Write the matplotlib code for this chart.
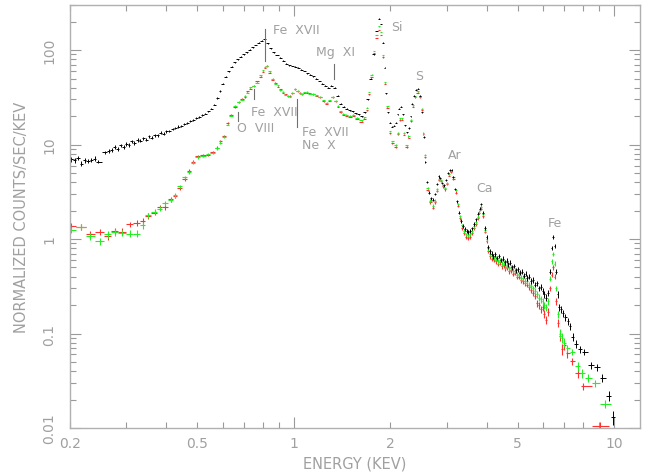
import numpy as np
import matplotlib
matplotlib.use("Agg")
import matplotlib.pyplot as plt
from matplotlib.ticker import FixedLocator, NullFormatter, FixedFormatter

# ---------------- data ----------------
black_E = [0.202, 0.207, 0.212, 0.217, 0.222, 0.228, 0.233, 0.239, 0.245,
           0.258, 0.264, 0.270, 0.276, 0.282, 0.288, 0.294, 0.300, 0.306, 0.312,
           0.318, 0.325, 0.332, 0.339, 0.346, 0.353, 0.360, 0.368, 0.376, 0.384,
           0.392, 0.400, 0.409, 0.418, 0.427, 0.436, 0.445, 0.455, 0.465, 0.475,
           0.485, 0.496, 0.507, 0.518, 0.529, 0.540, 0.552, 0.564, 0.576, 0.588,
           0.600, 0.613, 0.626, 0.640, 0.654, 0.668, 0.683, 0.698, 0.713, 0.729,
           0.745, 0.761, 0.778, 0.795, 0.812, 0.830, 0.848, 0.867, 0.886, 0.906,
           0.926, 0.946, 0.967, 0.988, 1.010, 1.032, 1.055, 1.078, 1.102, 1.126,
           1.151, 1.176, 1.202, 1.228, 1.255, 1.283, 1.311, 1.340, 1.370, 1.400,
           1.431, 1.462, 1.494, 1.527, 1.561, 1.595, 1.630, 1.666, 1.703, 1.740,
           1.778, 1.817, 1.845, 1.870, 1.895, 1.920, 1.946, 1.972, 1.998, 2.025,
           2.052, 2.080, 2.108, 2.136, 2.165, 2.194, 2.224, 2.254, 2.284, 2.315,
           2.346, 2.378, 2.410, 2.442, 2.475, 2.508, 2.542, 2.576, 2.611, 2.646,
           2.682, 2.718, 2.755, 2.792, 2.830, 2.868, 2.907, 2.946, 2.986, 3.026,
           3.067, 3.108, 3.150, 3.193, 3.236, 3.280, 3.324, 3.369, 3.415, 3.461,
           3.508, 3.555, 3.603, 3.652, 3.701, 3.751, 3.802, 3.853, 3.905, 3.958,
           4.00, 4.05, 4.10, 4.15, 4.20, 4.26, 4.32, 4.38, 4.44, 4.50, 4.56, 4.62,
           4.68, 4.74, 4.80, 4.87, 4.94, 5.01, 5.08, 5.15, 5.22, 5.29, 5.36, 5.43,
           5.50, 5.58, 5.66, 5.74, 5.82, 5.90, 5.98, 6.06, 6.14, 6.22, 6.30, 6.38,
           6.45, 6.52, 6.59, 6.66, 6.74, 6.84, 6.94, 7.05, 7.16, 7.28, 7.42, 7.58,
           7.80, 8.05, 8.50, 8.85, 9.20, 9.65, 9.95]
black_V = [7.0, 6.8, 7.2, 6.3, 6.8, 6.7, 6.9, 7.1, 6.6,
           8.3, 8.5, 8.8, 9.4, 8.9, 9.8, 9.5, 10.2, 9.9, 10.8,
           10.4, 11.2, 11.0, 11.6, 11.3, 12.2, 11.8, 12.6, 12.5, 13.3,
           13.0, 13.8, 14.0, 14.6, 14.9, 15.5, 15.8, 16.4, 17.0, 17.6,
           18.2, 19.0, 19.6, 20.5, 21.3, 22.4, 24.0, 26.5, 31.0, 37.0,
           44.0, 52.0, 60.0, 67.0, 74.0, 80.0, 85.0, 90.0, 95.0, 101.0,
           107.0, 113.0, 120.0, 126.0, 131.0, 118.0, 104.0, 95.0, 89.0, 83.0,
           77.0, 72.0, 69.0, 68.0, 67.0, 65.0, 62.0, 60.0, 57.0, 55.0,
           53.0, 50.0, 47.0, 44.0, 42.0, 40.0, 42.0, 40.0, 33.0, 27.0,
           25.0, 24.0, 23.0, 22.5, 21.5, 21.0, 20.0, 22.0, 30.0, 50.0,
           90.0, 160.0, 215.0, 190.0, 120.0, 65.0, 35.0, 22.0, 17.0, 15.5,
           15.8, 17.0, 21.0, 24.0, 25.0, 21.0, 16.0, 13.5, 15.0, 20.0,
           27.0, 33.0, 38.0, 39.0, 33.0, 22.0, 12.0, 6.5, 4.0, 3.1,
           2.7, 2.6, 3.0, 3.8, 4.6, 4.4, 3.9, 3.7, 4.2, 5.0,
           5.4, 5.4, 4.5, 3.4, 2.5, 1.9, 1.55, 1.38, 1.28, 1.22,
           1.18, 1.22, 1.30, 1.45, 1.62, 1.85, 2.10, 2.35, 1.90, 1.30,
           1.05, 0.82, 0.74, 0.70, 0.66, 0.69, 0.63, 0.66, 0.60, 0.62, 0.57, 0.59,
           0.54, 0.56, 0.50, 0.52, 0.47, 0.48, 0.44, 0.45, 0.41, 0.43, 0.39, 0.40,
           0.36, 0.37, 0.33, 0.34, 0.30, 0.31, 0.28, 0.26, 0.24, 0.27, 0.45, 0.80,
           1.05, 0.85, 0.45, 0.26, 0.19, 0.18, 0.165, 0.15, 0.135, 0.12, 0.092, 0.078,
           0.068, 0.064, 0.046, 0.044, 0.034, 0.022, 0.013]

rg_E = [0.202, 0.217, 0.231, 0.248, 0.262, 0.276, 0.290, 0.307, 0.323, 0.337,
        0.350, 0.368, 0.382, 0.395, 0.413, 0.425, 0.440, 0.457, 0.470, 0.484,
        0.501, 0.520, 0.540, 0.558, 0.575, 0.590, 0.605, 0.622, 0.636, 0.654,
        0.673, 0.690, 0.703, 0.716, 0.729, 0.750, 0.766, 0.789, 0.800, 0.812,
        0.825, 0.841, 0.860, 0.875, 0.891, 0.908, 0.924, 0.941, 0.958, 0.975,
        0.990, 1.007, 1.030, 1.045, 1.060, 1.080, 1.098, 1.120, 1.147, 1.175,
        1.206, 1.240, 1.268, 1.295, 1.324, 1.350, 1.373, 1.400, 1.422, 1.460,
        1.500, 1.528, 1.570, 1.630, 1.660, 1.690, 1.720, 1.750, 1.780, 1.810,
        1.843, 1.870, 1.900, 1.930, 1.960, 1.995, 2.030, 2.080, 2.110, 2.140,
        2.170, 2.210, 2.250, 2.280, 2.320, 2.350, 2.390, 2.440, 2.470, 2.510,
        2.540, 2.570, 2.620, 2.670, 2.720, 2.760, 2.800, 2.840, 2.880, 2.920,
        2.960, 3.000, 3.050, 3.100, 3.150, 3.200, 3.250, 3.300, 3.350, 3.400,
        3.450, 3.500, 3.550, 3.600, 3.650, 3.700, 3.750, 3.800, 3.850, 3.900,
        3.950, 4.00, 4.05, 4.10, 4.16, 4.22, 4.28, 4.34, 4.40, 4.46, 4.52, 4.58,
        4.64, 4.70, 4.77, 4.84, 4.91, 4.98, 5.05, 5.12, 5.19, 5.26, 5.34, 5.42,
        5.50, 5.58, 5.66, 5.74, 5.82, 5.90, 5.98, 6.06, 6.14, 6.22, 6.30, 6.38,
        6.45, 6.52, 6.60, 6.70, 6.80, 6.90, 7.00, 7.15]
red_V = [1.38, 1.34, 1.13, 1.19, 1.08, 1.22, 1.20, 1.43, 1.48, 1.56,
         1.75, 1.90, 2.18, 2.18, 2.63, 2.85, 3.5, 4.3, 5.3, 6.6,
         7.5, 7.7, 7.8, 8.4, 9.3, 10.8, 12.3, 16.8, 20.8, 25.0,
         28.0, 30.5, 32.0, 36.5, 39.0, 42.0, 46.5, 52.5, 59.0, 65.0,
         68.0, 57.5, 48.5, 45.0, 41.0, 38.5, 35.5, 34.0, 32.3, 32.8,
         35.0, 38.5, 36.5, 35.2, 34.0, 35.3, 35.5, 35.0, 34.0, 32.8,
         31.5, 28.8, 27.2, 29.0, 31.5, 28.8, 25.2, 22.0, 20.8, 20.3,
         19.8, 20.3, 18.8, 17.5, 18.8, 23.0, 34.0, 52.0, 92.0, 135.0,
         162.0, 145.0, 84.0, 44.0, 24.5, 13.2, 10.3, 9.4, 12.8, 18.2,
         18.4, 12.7, 9.4, 11.8, 17.6, 25.0, 31.5, 35.5, 31.5, 23.2,
         12.8, 7.3, 3.3, 2.45, 2.15, 2.45, 3.25, 4.2, 4.1, 3.6,
         3.35, 3.85, 4.7, 5.1, 4.3, 3.1, 2.25, 1.65, 1.3, 1.15,
         1.05, 1.02, 1.06, 1.15, 1.3, 1.45, 1.65, 1.9, 2.1, 1.75,
         1.2, 0.95, 0.75, 0.66, 0.62, 0.60, 0.58, 0.55, 0.57, 0.52, 0.53, 0.49,
         0.50, 0.46, 0.47, 0.43, 0.44, 0.40, 0.40, 0.37, 0.36, 0.34, 0.33, 0.31,
         0.29, 0.27, 0.25, 0.21, 0.20, 0.18, 0.19, 0.16, 0.14, 0.17, 0.30, 0.42,
         0.50, 0.40, 0.22, 0.13, 0.095, 0.068, 0.075, 0.062]
green_V = [1.25, 1.34, 1.08, 0.95, 1.13, 1.19, 1.16, 1.14, 1.14, 1.40,
           1.78, 1.94, 2.10, 2.40, 2.60, 2.90, 3.6, 4.5, 5.1, 6.4,
           7.3, 7.6, 7.9, 8.2, 9.1, 10.5, 12.0, 16.3, 20.3, 25.8,
           28.4, 29.8, 33.0, 35.5, 40.2, 41.2, 45.0, 54.0, 61.0, 66.5,
           67.5, 59.5, 50.0, 44.0, 42.2, 37.5, 36.3, 33.6, 33.0, 32.2,
           35.5, 39.0, 37.2, 34.8, 34.5, 35.8, 36.2, 34.6, 34.5, 33.2,
           32.0, 29.3, 27.8, 29.5, 32.0, 29.2, 25.8, 22.5, 21.2, 20.8,
           20.2, 20.7, 19.2, 18.0, 19.5, 24.5, 36.0, 55.0, 98.0, 145.0,
           178.0, 155.0, 88.0, 46.0, 25.5, 13.8, 10.8, 9.9, 13.2, 19.0,
           18.9, 13.3, 9.8, 12.3, 18.3, 26.0, 32.5, 36.5, 32.5, 24.0,
           13.3, 7.7, 3.5, 2.55, 2.25, 2.55, 3.35, 4.35, 4.25, 3.75,
           3.45, 3.95, 4.9, 5.3, 4.5, 3.3, 2.35, 1.75, 1.4, 1.22,
           1.12, 1.10, 1.12, 1.22, 1.38, 1.52, 1.72, 1.97, 2.2, 1.85,
           1.25, 1.0, 0.80, 0.70, 0.66, 0.63, 0.62, 0.58, 0.60, 0.55, 0.56, 0.52,
           0.53, 0.49, 0.50, 0.46, 0.46, 0.42, 0.43, 0.39, 0.39, 0.36, 0.36, 0.33,
           0.32, 0.30, 0.28, 0.26, 0.24, 0.23, 0.22, 0.20, 0.19, 0.22, 0.38, 0.58,
           0.69, 0.55, 0.30, 0.16, 0.10, 0.09, 0.08, 0.07]

red_tail_E = [7.38, 7.72, 8.00, 9.04]
red_tail_V = [0.051, 0.038, 0.0275, 0.0106]
green_tail_E = [7.40, 7.70, 7.95, 8.30, 8.72, 9.40]
green_tail_V = [0.064, 0.045, 0.038, 0.034, 0.030, 0.018]

x_ticks = [0.2, 0.5, 1, 2, 5, 10]
x_ticklabels = ["0.2", "0.5", "1", "2", "5", "10"]
y_ticks = [0.01, 0.1, 1, 10, 100]
y_ticklabels = ["0.01", "0.1", "1", "10", "100"]

# (text, x, y) and line markers (x, y0, y1)
labels = [("Fe  XVII", 0.86, 167), ("Mg  XI", 1.172, 97.6), ("Si", 2.02, 179),
          ("S", 2.39, 54.4), ("Ar", 3.03, 7.92), ("Ca", 3.70, 3.47),
          ("Fe", 6.22, 1.48), ("Fe  XVII", 0.734, 22.6), ("O  VIII", 0.664, 15.3),
          ("Fe  XVII", 1.059, 13.9), ("Ne  X", 1.059, 10.1)]
marks = [(0.812, 76.6, 167), (1.334, 49.3, 71), (0.75, 30.3, 38.7),
         (0.668, 17.8, 22.0), (1.022, 15.3, 30.3)]

# ---------------- plotting ----------------
TXT = "#a0a0a0"
AX = "#9a9a9a"

plt.rcParams['font.family'] = ['DejaVu Sans']

fig = plt.figure(figsize=(6.52, 4.77), dpi=100)
ax = fig.add_axes([70 / 652, 48 / 477, 570 / 652, 423 / 477])


def draw(E, V, color, lw=0.8):
    E = np.asarray(E, float)
    V = np.asarray(V, float)
    order = np.argsort(E)
    E, V = E[order], V[order]
    lE = np.log10(E)
    mid = (lE[1:] + lE[:-1]) / 2
    lo = np.concatenate([[lE[0] - (mid[0] - lE[0])], mid])
    hi = np.concatenate([mid, [lE[-1] + (lE[-1] - mid[-1])]])
    xl = E - 10 ** lo
    xh = 10 ** hi - E
    width = xl + xh
    rel = 0.011 / np.sqrt(V * width)
    ax.errorbar(E, V, xerr=[xl, xh], yerr=V * rel, fmt='none',
                ecolor=color, elinewidth=lw, capsize=0)


draw(rg_E + red_tail_E, red_V + red_tail_V, "#ff3030")
draw(rg_E + green_tail_E, green_V + green_tail_V, "#22ee22")
draw(black_E, black_V, "#000000", lw=0.7)

for t, x, y in labels:
    ax.text(x, y, t, color=TXT, fontsize=9, ha='left', va='center')
for x, y0, y1 in marks:
    ax.plot([x, x], [y0, y1], color="#707070", lw=0.8)

ax.set_xscale('log')
ax.set_yscale('log')
ax.set_xlim(0.2, 12.05)
ax.set_ylim(0.01, 300)

ax.xaxis.set_major_locator(FixedLocator([1, 10]))
ax.xaxis.set_major_formatter(NullFormatter())
ax.xaxis.set_minor_locator(FixedLocator([0.2, 0.3, 0.4, 0.5, 0.6, 0.7, 0.8, 0.9,
                                         2, 3, 4, 5, 6, 7, 8, 9]))
ax.xaxis.set_minor_formatter(NullFormatter())
for x, t in zip(x_ticks, x_ticklabels):
    ax.text(x, -0.018, t, transform=ax.get_xaxis_transform(), ha='center',
            va='top', color=TXT, fontsize=10)

ax.yaxis.set_major_locator(FixedLocator(y_ticks))
ax.yaxis.set_major_formatter(FixedFormatter(y_ticklabels))
ax.yaxis.set_minor_locator(FixedLocator(
    [m * 10.0 ** d for d in range(-2, 3) for m in range(2, 10)]))
ax.yaxis.set_minor_formatter(NullFormatter())
for lab in ax.get_yticklabels():
    lab.set_rotation(90)
    lab.set_va('center')

ax.tick_params(which='both', direction='in', top=True, right=True,
               color=AX, labelcolor=TXT, labelsize=10)
ax.tick_params(which='major', length=8, width=0.8, pad=10)
ax.tick_params(which='minor', length=4, width=0.8)
for s in ax.spines.values():
    s.set_color("#b0b0b0")
    s.set_linewidth(1.0)

fig.text(355 / 652, 1 - 464 / 477, "ENERGY (KEV)", ha='center', va='center',
         color=TXT, fontsize=10.5)
fig.text(22 / 652, 1 - 217 / 477, "NORMALIZED COUNTS/SEC/KEV", ha='center',
         va='center', rotation=90, color=TXT, fontsize=10.5)

fig.savefig("out.png", dpi=100)
